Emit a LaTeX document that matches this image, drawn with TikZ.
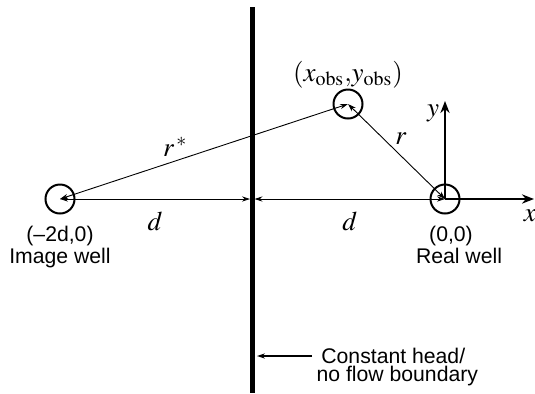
\documentclass[tikz,border=0pt]{standalone}
\usepackage{mathptmx}
\usepackage{fontspec}
\setsansfont{Liberation Sans}
\usepackage{tikz}
\usetikzlibrary{arrows.meta,positioning,calc}
\definecolor{inkblack}{HTML}{000000}
\tikzset{
  well/.style={draw=inkblack, circle, line width=1pt, minimum size=14.5pt, inner sep=0pt},
  wall/.style={draw=inkblack, line width=2.5pt},
  dimarrow/.style={{Stealth[length=4pt,width=2.6pt]}-{Stealth[length=4pt,width=2.6pt]}, line width=0.45pt, draw=inkblack},
  pointer/.style={-{Stealth[length=4pt,width=2.6pt]}, line width=0.6pt, draw=inkblack},
  axis/.style={-{Stealth[length=6pt,width=4.6pt]}, line width=1.4pt, draw=inkblack},
  caption/.style={font=\sffamily\fontsize{10.6}{10.6}\selectfont, inner sep=1pt},
  mathlabel/.style={font=\fontsize{13.5}{15}\selectfont, inner sep=1pt}
}
\begin{document}
\begin{tikzpicture}[x=0.5pt, y=-0.5pt]
  \useasboundingbox (0,0) rectangle (535,393);

  % wells and observation point
  \node[well] (image) at (60,199) {};
  \node[well] (real) at (445,199) {};
  \node[well] (obs) at (348,104) {};

  % boundary
  \coordinate (btop) at (252,7);
  \coordinate (bbot) at (252,393);
  \coordinate (bleft) at (250,199);
  \coordinate (bright) at (254.5,199);
  \coordinate (bnote) at (257,356);
  \draw[wall] (btop) -- (bbot);

  % distances
  \draw[dimarrow] (image.center) -- node[mathlabel, below=5pt] {$d$} (bleft);
  \draw[dimarrow] (bright) -- node[mathlabel, below=5pt] {$d$} (real.center);
  \draw[dimarrow] (image.center) -- node[mathlabel, pos=0.4, above=1pt] {$r^{\,*}$} (obs.center);
  \draw[dimarrow] (obs.center) -- node[mathlabel, pos=0.36, right=5pt] {$r$} (real.center);

  % axes
  \coordinate (xtip) at (534,199);
  \coordinate (ytip) at (445,101);
  \draw[axis] (real.center) -- (xtip);
  \draw[axis] (real.center) -- (ytip);
  \node[mathlabel] (xlab) at (530,216) {$x$};
  \node[mathlabel] (ylab) at (433,113) {$y$};

  % labels
  \node[mathlabel, above=-1pt of obs] (obslab) {$(x_{\mathrm{obs}}{,}y_{\mathrm{obs}})$};
  \node[caption, below=4.5pt of image] (imagepos) {(--2d,0)};
  \node[caption, below=-1pt of imagepos] (imagename) {Image well};
  \node[caption, below=4.5pt of real, xshift=3pt] (realpos) {(0,0)};
  \node[caption, below=-1pt of realpos, xshift=4pt] (realname) {Real well};
  \node[caption, anchor=west] (note1) at (319,356) {Constant head/};
  \node[caption, below=-1pt of note1, xshift=2pt] (note2) {no flow boundary};
  \draw[pointer] ([xshift=-3.5pt]note1.west) -- (bnote);
\end{tikzpicture}
\end{document}
